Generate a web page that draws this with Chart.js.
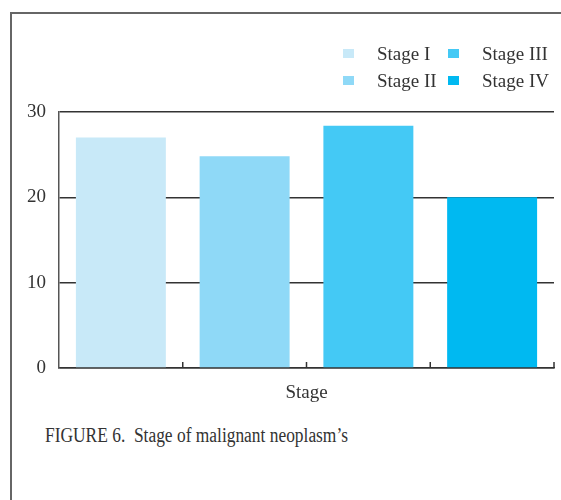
<!DOCTYPE html>
<html>
<head>
<meta charset="utf-8">
<script src="https://cdn.jsdelivr.net/npm/chart.js@4/dist/chart.umd.min.js"></script>
<style>
  html, body { margin: 0; padding: 0; background: #fff; }
  body { width: 561px; height: 500px; position: relative; overflow: hidden;
         font-family: "Liberation Serif", "DejaVu Serif", serif; color: #333; }
  #frame { position: absolute; left: 10px; top: 12px; width: 560px; height: 500px;
           border-left: 2px solid #666; border-top: 2px solid #666; }
  #wrap { position: absolute; left: 0; top: 0; width: 561px; height: 420px; }
  #legend { position: absolute; left: 343px; top: 40px; display: grid;
            grid-template-columns: 105px auto; grid-auto-flow: column;
            grid-template-rows: 27px 27px; font-size: 19px; color: #333; }
  .item { display: flex; align-items: center; white-space: nowrap; }
  .box { width: 11px; height: 9px; margin-right: 23px; }
  #caption { position: absolute; left: 45px; top: 424px; font-size: 20px; color: #333;
             white-space: pre; transform: scaleX(0.87); transform-origin: 0 50%; }
</style>
</head>
<body>
<div id="frame"></div>
<div id="wrap"><canvas id="chart" width="561" height="420"></canvas></div>
<div id="legend"></div>
<div id="caption">FIGURE 6.  Stage of malignant neoplasm’s</div>
<script>
// Stages of malignant neoplasm and their counts
const stages = ['Stage I', 'Stage II', 'Stage III', 'Stage IV'];
const counts = [27.0, 24.8, 28.4, 20.0];
const stageColors = ['#c8e9f8', '#8fd9f7', '#44c9f5', '#00b9f1'];
const yTicks = [0, 10, 20, 30];

const FONT = '"Liberation Serif", "DejaVu Serif", serif';

// Legend: two columns, filled top to bottom
const legendEl = document.getElementById('legend');
stages.forEach((s, i) => {
  const item = document.createElement('div');
  item.className = 'item';
  const box = document.createElement('span');
  box.className = 'box';
  box.style.background = stageColors[i];
  const label = document.createElement('span');
  label.textContent = s;
  item.appendChild(box);
  item.appendChild(label);
  legendEl.appendChild(item);
});

// Small upward tick marks at the category boundaries of the x axis
const boundaryTicks = {
  id: 'boundaryTicks',
  afterDatasetsDraw(chart) {
    const xs = chart.scales.x;
    const y0 = chart.chartArea.bottom;
    const ctx = chart.ctx;
    ctx.save();
    ctx.strokeStyle = '#333';
    ctx.lineWidth = 1.5;
    for (let i = 1; i <= stages.length; i++) {
      const x = i < stages.length
        ? (xs.getPixelForValue(i - 1) + xs.getPixelForValue(i)) / 2
        : chart.chartArea.right;
      ctx.beginPath();
      ctx.moveTo(x, y0);
      ctx.lineTo(x, y0 - 6);
      ctx.stroke();
    }
    ctx.restore();
  }
};

new Chart(document.getElementById('chart'), {
  type: 'bar',
  data: {
    labels: stages,
    datasets: [{
      label: 'Stage',
      data: counts,
      backgroundColor: stageColors,
      borderWidth: 0,
      barPercentage: 0.727,
      categoryPercentage: 1.0
    }]
  },
  options: {
    responsive: false,
    animation: false,
    layout: { padding: { top: 112, right: 7, left: 0, bottom: 0 } },
    plugins: {
      legend: { display: false },
      tooltip: { enabled: false }
    },
    scales: {
      x: {
        type: 'category',
        offset: true,
        grid: { display: false },
        border: { display: true, color: '#333', width: 1.5 },
        ticks: { display: false },
        title: {
          display: true,
          text: 'Stage',
          color: '#333',
          font: { family: FONT, size: 19 },
          padding: { top: 0, bottom: 16 }
        },
        afterFit(scale) { scale.height = 52; }
      },
      y: {
        min: yTicks[0],
        max: yTicks[yTicks.length - 1],
        afterBuildTicks(scale) { scale.ticks = yTicks.map(v => ({ value: v })); },
        grid: { color: '#333', lineWidth: 1.5, drawTicks: false },
        border: { display: true, color: '#555', width: 1.5 },
        ticks: {
          padding: 13,
          color: '#333',
          font: { family: FONT, size: 19 }
        },
        afterFit(scale) { scale.width = 59; }
      }
    }
  },
  plugins: [boundaryTicks]
});
</script>
</body>
</html>
